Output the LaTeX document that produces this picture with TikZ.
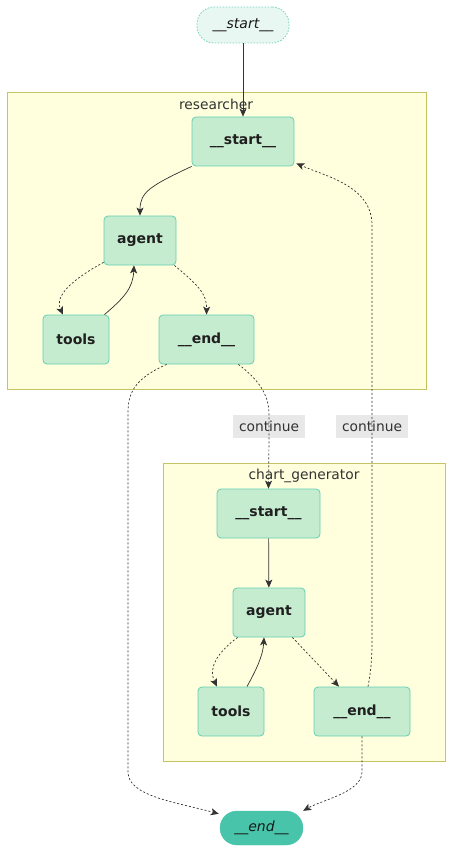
\documentclass[tikz,border=0pt]{standalone}
\usepackage{fontspec}
\setmainfont{DejaVu Sans}
\usepackage{xcolor}
\usepackage{tikz}
\usetikzlibrary{arrows.meta,positioning,calc}

\definecolor{nodefill}{HTML}{C6ECD0}
\definecolor{nodeline}{HTML}{62CFB1}
\definecolor{startfill}{HTML}{E9F7F3}
\definecolor{startline}{HTML}{6FD5BE}
\definecolor{endfill}{HTML}{47C4AA}
\definecolor{clusterfill}{HTML}{FFFFDE}
\definecolor{clusterline}{HTML}{C4C466}
\definecolor{labelfill}{HTML}{E8E8E8}
\definecolor{edgegray}{HTML}{333333}

\begin{document}
\begin{tikzpicture}[x=1pt,y=-1pt,>={Stealth[length=8pt,width=7pt,inset=2pt]},
  every node/.style={font=\fontsize{13.8}{16}\selectfont,text=edgegray},
  state/.style={draw=nodeline,fill=nodefill,rounded corners=4pt,minimum height=49pt,
    line width=0.8pt,inner sep=0pt,font=\fontsize{14}{16}\selectfont\bfseries,text=black!88},
  terminal/.style={rounded corners=17pt,inner sep=0pt,
    font=\fontsize{14}{16}\selectfont\itshape,text=black!90},
  cluster/.style={draw=clusterline,fill=clusterfill,line width=0.8pt},
  flow/.style={->,draw=edgegray,line width=0.7pt},
  maybe/.style={flow,dash pattern=on 2pt off 2pt},
  edgelabel/.style={fill=labelfill,inner xsep=6pt,inner ysep=0pt,minimum height=23pt}]
  \useasboundingbox (0,0) rectangle (453,853);

  \draw[cluster] (7,92) rectangle (426,389);
  \draw[cluster] (163,463) rectangle (445,761);
  \node (researcher) at (216,104) {researcher};
  \node (chartgen) at (304,476) {chart\_generator};

  \node[terminal,draw=startline,line width=0.8pt,dash pattern=on 1.5pt off 1.5pt,
    fill=startfill,minimum width=92pt,minimum height=36pt] (begin) at (243,25) {\_\_start\_\_};
  \node[terminal,draw=endfill,fill=endfill,minimum width=83pt,minimum height=34pt]
    (finish) at (261.5,828) {\_\_end\_\_};

  \node[state,minimum width=102pt] (rstart) at (243,141.5) {\_\_start\_\_};
  \node[state,minimum width=72pt]  (ragent) at (140,240.5) {agent};
  \node[state,minimum width=66pt]  (rtools) at (76,339.5)  {tools};
  \node[state,minimum width=95pt]  (rend)   at (206.5,339.5) {\_\_end\_\_};

  \node[state,minimum width=103pt] (cstart) at (268.5,513.5) {\_\_start\_\_};
  \node[state,minimum width=72pt]  (cagent) at (269,612.5) {agent};
  \node[state,minimum width=66pt]  (ctools) at (231,711.5) {tools};
  \node[state,minimum width=96pt]  (cend)   at (362,711.5) {\_\_end\_\_};

  \node[edgelabel] (contA) at (269,426.5) {continue};
  \node[edgelabel] (contB) at (372,426.5) {continue};

  \draw[flow] (begin) -- (rstart);
  \draw[flow] (rstart.south west) .. controls (150,186) and (140,192) .. (ragent.north);
  \draw[maybe] ($(ragent.south west)+(0,-3)$) .. controls (62,285) and (56,300)
    .. ($(rtools.north)+(-13,0)$);
  \draw[flow] ($(rtools.north east)+(-5,0)$) .. controls (124,298) and (133,288)
    .. ($(ragent.south)+(-6,0)$);
  \draw[maybe] ($(ragent.south east)+(-2,0)$) .. controls (198,285) and (207,294)
    .. ($(rend.north)+(0,0)$);

  \draw[maybe] ($(rend.south west)+(8,0)$) .. controls (136,378) and (128,392)
    .. (128,412) -- (128,772) .. controls (128,796) and (175,802)
    .. ($(finish.north west)+(-1,3)$);
  \draw[maybe] ($(rend.south east)+(-16,0)$) .. controls (256,378) and (269,392)
    .. (contA.north) -- (contA.south) -- (cstart.north);
  \draw[maybe] ($(cend.north)+(6,0)$) .. controls (371,670) and (372,660)
    .. (372,640) -- (contB.south) -- (contB.north) -- (372,225)
    .. controls (372,186) and (325,176) .. ($(rstart.south east)+(2,-3)$);

  \draw[flow] (cstart) -- (cagent);
  \draw[maybe] ($(cagent.south west)+(5,0)$) .. controls (214,655) and (209,670)
    .. ($(ctools.north)+(-14,0)$);
  \draw[flow] ($(ctools.north)+(16,0)$) .. controls (256,670) and (263,656)
    .. ($(cagent.south)+(-5,0)$);
  \draw[maybe] ($(cagent.south east)+(-13,0)$) -- ($(cend.north)+(-23,0)$);
  \draw[maybe] (cend.south) -- (362,772) .. controls (362,792) and (322,800)
    .. ($(finish.north east)+(0,0)$);
\end{tikzpicture}
\end{document}
